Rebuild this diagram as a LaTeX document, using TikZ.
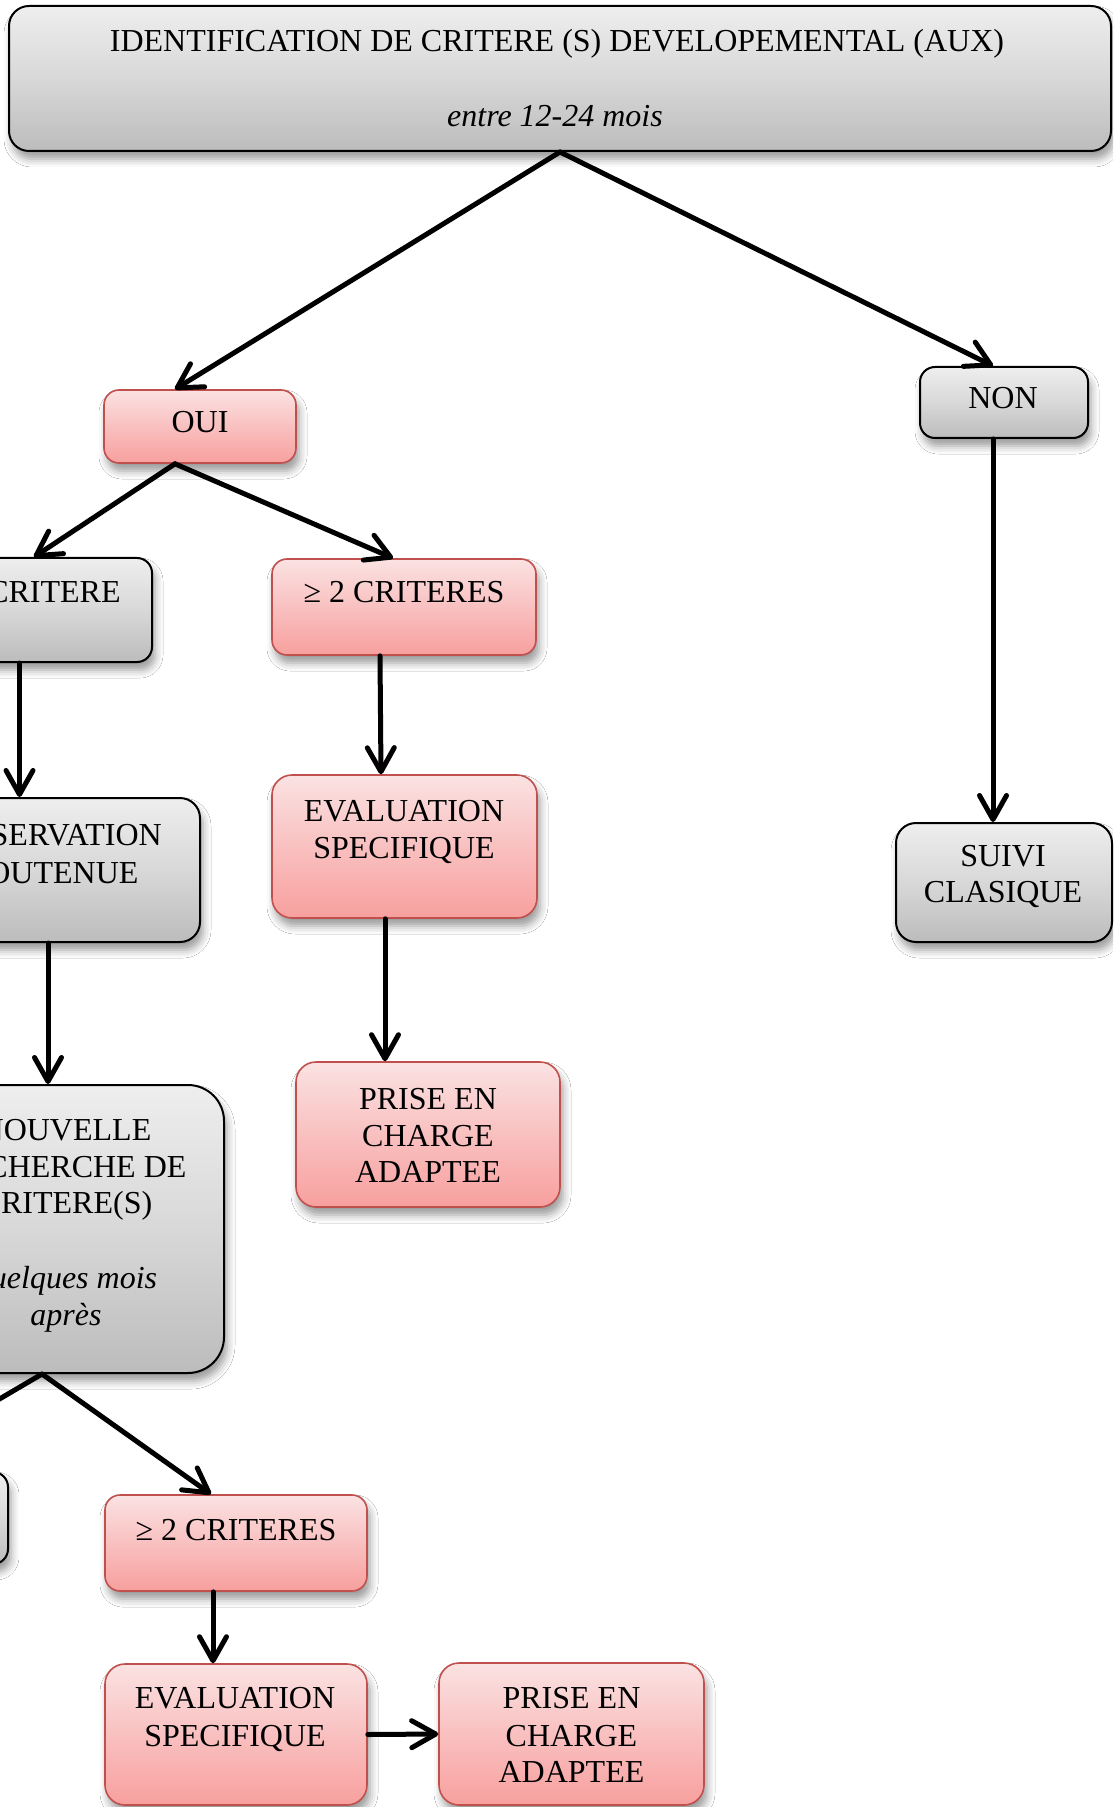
\documentclass[tikz,border=0pt]{standalone}
\usepackage{fontspec}
\setmainfont{Liberation Serif}
\usetikzlibrary{arrows.meta,shadows.blur}
\definecolor{gTop}{RGB}{238,238,238}
\definecolor{gMid}{RGB}{216,216,216}
\definecolor{gBot}{RGB}{188,188,188}
\definecolor{rTop}{RGB}{251,226,226}
\definecolor{rMid}{RGB}{249,192,192}
\definecolor{rBot}{RGB}{247,160,158}
\definecolor{rLine}{RGB}{192,80,77}
\begin{document}
\begin{tikzpicture}[x=0.5pt,y=-0.5pt,
  box/.style={rectangle, rounded corners=7.5pt, inner sep=0pt,
    blur shadow={shadow xshift=1.5pt, shadow yshift=-4pt, shadow blur radius=4pt, shadow opacity=40}},
  graybox/.style={box, draw=black, line width=1pt, top color=gTop, bottom color=gBot, middle color=gMid},
  redbox/.style={box, draw=rLine, line width=0.8pt, top color=rTop, bottom color=rBot, middle color=rMid},
  txt/.style={anchor=base, inner sep=0pt, font=\fontsize{16}{18.5}\selectfont},
  itxt/.style={txt, font=\fontsize{16}{18.5}\selectfont\itshape},
  arr/.style={line width=2.5pt, line cap=round,
    -{Straight Barb[length=12pt,width=13.5pt,line cap=round,line join=round]}}
]
\useasboundingbox (0,0) rectangle (1113,1807);
\fill[white] (0,0) rectangle (1113,1807);
\clip (0,0) rectangle (1113,1807);

% boxes
\node[graybox, rounded corners=10pt, minimum width=551pt, minimum height=72.5pt] (top) at (560,78.5) {};
\node[redbox, minimum width=96pt, minimum height=36.5pt] (oui) at (200,426.5) {};
\node[graybox, minimum width=84pt, minimum height=35.5pt] (non) at (1004,402.5) {};
\node[graybox, minimum width=136pt, minimum height=52pt] (c1) at (16,610) {};
\node[redbox, minimum width=132pt, minimum height=48pt] (c2) at (404,607) {};
\node[redbox, rounded corners=10pt, minimum width=132.5pt, minimum height=71.5pt] (e1) at (404.5,846.5) {};
\node[redbox, rounded corners=10pt, minimum width=132pt, minimum height=72.5pt] (p1) at (428,1134.5) {};
\node[graybox, rounded corners=10pt, minimum width=146pt, minimum height=72pt] (obs) at (54,870) {};
\node[graybox, rounded corners=18pt, minimum width=158pt, minimum height=144pt] (nouv) at (66,1229) {};
\node[graybox, minimum width=134pt, minimum height=46pt] (c1b) at (-126,1518) {};
\node[redbox, minimum width=131pt, minimum height=48pt] (c2b) at (236,1543) {};
\node[redbox, rounded corners=10pt, minimum width=131pt, minimum height=70.5pt] (e2) at (236,1734.5) {};
\node[redbox, rounded corners=10pt, minimum width=132.5pt, minimum height=71pt] (p2) at (571.5,1734) {};
\node[graybox, rounded corners=10pt, minimum width=108pt, minimum height=59.5pt] (suivi) at (1004,882.5) {};

% texts
\node[txt] (tTitle) at (557,52) {IDENTIFICATION DE CRITERE (S) DEVELOPEMENTAL (AUX)};
\node[itxt] (tAge) at (555,127) {entre 12-24 mois};
\node[txt] (tOui) at (200,433) {OUI};
\node[txt] (tNon) at (1003,409) {NON};
\node[txt, anchor=base east] (tC1) at (121,603) {1 CRITERE};
\node[txt] (tC2) at (404,603) {≥ 2 CRITERES};
\node[txt] (tE1a) at (404,821.5) {EVALUATION};
\node[txt] (tE1b) at (404,858) {SPECIFIQUE};
\node[txt] (tP1a) at (428,1109) {PRISE EN};
\node[txt] (tP1b) at (428,1146) {CHARGE};
\node[txt] (tP1c) at (428,1182) {ADAPTEE};
\node[txt] (tObsA) at (54,845) {OBSERVATION};
\node[txt] (tObsB) at (54,883.5) {SOUTENUE};
\node[txt] (tNvA) at (66,1140.5) {NOUVELLE};
\node[txt] (tNvB) at (66,1177.5) {RECHERCHE DE};
\node[txt] (tNvC) at (66,1213) {CRITERE(S)};
\node[itxt] (tNvD) at (66,1288) {quelques mois};
\node[itxt] (tNvE) at (66,1325) {après};
\node[txt] (tC2b) at (236,1540) {≥ 2 CRITERES};
\node[txt] (tE2a) at (235,1708) {EVALUATION};
\node[txt] (tE2b) at (235,1746.5) {SPECIFIQUE};
\node[txt] (tP2a) at (571.5,1708) {PRISE EN};
\node[txt] (tP2b) at (571.5,1746) {CHARGE};
\node[txt] (tP2c) at (571.5,1782) {ADAPTEE};
\node[txt] (tSuA) at (1003,866) {SUIVI};
\node[txt] (tSuB) at (1003,902) {CLASIQUE};

% connectors
\draw[arr] (top.south) -- ([xshift=-12.5pt]oui.north);
\draw[arr] (top.south) -- ([xshift=-5.5pt]non.north);
\draw[arr] ([xshift=-12.5pt]oui.south) -- ([xshift=9pt]c1.north);
\draw[arr] ([xshift=-12.5pt]oui.south) -- ([xshift=-5.5pt]c2.north);
\draw[arr] ([xshift=1.75pt]c1.south) -- ([xshift=-17.25pt]obs.north);
\draw[arr] ([xshift=-12pt]c2.south) -- ([xshift=-11.75pt]e1.north);
\draw[arr] ([xshift=-9.75pt]e1.south) -- ([xshift=-21.5pt]p1.north);
\draw[arr] ([xshift=-3pt]obs.south) -- ([xshift=-9pt]nouv.north);
\draw[arr] ([xshift=-12pt]nouv.south) -- ([xshift=1.5pt]c1b.north);
\draw[arr] ([xshift=-12pt]nouv.south) -- ([xshift=-12.5pt]c2b.north);
\draw[arr] ([xshift=-11.5pt]c2b.south) -- ([xshift=-11.5pt]e2.north);
\draw[arr] (e2.east) -- (p2.west);
\draw[arr] ([xshift=-5.5pt]non.south) -- ([xshift=-5.5pt]suivi.north);
\end{tikzpicture}
\end{document}
